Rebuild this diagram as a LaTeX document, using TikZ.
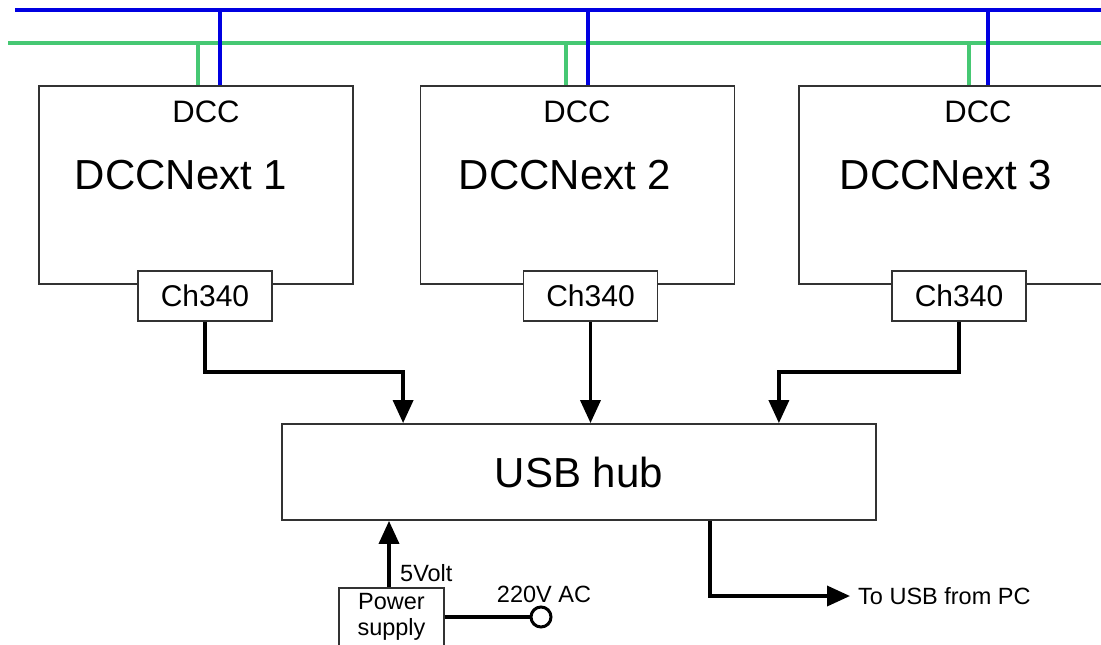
\documentclass[tikz,border=0pt]{standalone}
\usepackage{fontspec}
\setmainfont{Liberation Sans}
\usetikzlibrary{arrows.meta}
\definecolor{busblue}{RGB}{0,0,225}
\definecolor{busgreen}{RGB}{70,200,115}
\definecolor{boxgray}{RGB}{50,50,50}
\tikzset{
  dccbox/.style={draw=boxgray, line width=1.8pt, minimum width=314pt, minimum height=198pt, inner sep=0pt},
  chbox/.style={draw=boxgray, line width=1.8pt, fill=white, minimum width=134pt, minimum height=50pt, inner sep=0pt, font=\fontsize{30}{32}\selectfont},
  hubbox/.style={draw=boxgray, line width=1.8pt, minimum width=594pt, minimum height=96pt, inner sep=0pt, font=\fontsize{42}{44}\selectfont},
  dcclbl/.style={font=\fontsize{31}{33}\selectfont, inner sep=0pt},
  namelbl/.style={font=\fontsize{42}{44}\selectfont, inner sep=0pt},
  small/.style={font=\fontsize{23.5}{26}\selectfont, inner sep=0pt},
  arr/.style={line width=3.6pt, -{Triangle[length=23pt,width=20pt]}},
  blueline/.style={draw=busblue, line width=3.3pt},
  greenline/.style={draw=busgreen, line width=3.2pt},
}
\begin{document}
\begin{tikzpicture}[x=1pt,y=-1pt]
\useasboundingbox (0,0) rectangle (1101,645);
\clip (0,0) rectangle (1101,645);
% buses
\coordinate (bL) at (15,10);
\coordinate (bR) at (1101,10);
\coordinate (gL) at (8,43);
\coordinate (gR) at (1101,43);
\draw[blueline] (bL) -- (bR);
\draw[greenline] (gL) -- (gR);
% DCCNext boxes
\node[dccbox] (d1) at (196,185) {};
\node[dccbox] (d2) at (577.5,185) {};
\node[dccbox] (d3) at (956,185) {};
% bus drops
\draw[greenline] ([xshift=2pt]d1.north) -- ([xshift=2pt]d1.north |- gL);
\draw[blueline] ([xshift=24pt]d1.north) -- ([xshift=24pt]d1.north |- bL);
\draw[greenline] ([xshift=-11.5pt]d2.north) -- ([xshift=-11.5pt]d2.north |- gL);
\draw[blueline] ([xshift=10.5pt]d2.north) -- ([xshift=10.5pt]d2.north |- bL);
\draw[greenline] ([xshift=13pt]d3.north) -- ([xshift=13pt]d3.north |- gL);
\draw[blueline] ([xshift=32pt]d3.north) -- ([xshift=32pt]d3.north |- bL);
% labels
\node[dcclbl] (dc1) at (206,112) {DCC};
\node[dcclbl] (dc2) at (577,112) {DCC};
\node[dcclbl] (dc3) at (978,112) {DCC};
\node[namelbl] (n1) at (181,175) {DCCNext 1};
\node[namelbl] (n2) at (565,175) {DCCNext 2};
\node[namelbl] (n3) at (946,175) {DCCNext 3};
% Ch340
\node[chbox] (c1) at (205,296) {Ch340};
\node[chbox] (c2) at (590.5,296) {Ch340};
\node[chbox] (c3) at (959,296) {Ch340};
% hub
\node[hubbox] (hub) at (579,472) {USB hub};
% arrows to hub
\draw[arr] (c1.south) -- ++(0,50) -| ([xshift=122pt]hub.north west);
\draw[arr] (c2.south) -- (c2.south |- hub.north);
\draw[arr] (c3.south) -- ++(0,50) -| ([xshift=-98pt]hub.north east);
% power supply
\node[draw=boxgray, line width=1.8pt, minimum width=105pt, minimum height=90pt, anchor=north, inner sep=0pt] (ps) at (391.5,587) {};
\node[small, align=center] (pstxt) at (391.5,617) {Power\\supply};
\draw[arr] ([xshift=-2.5pt]ps.north) -- ([xshift=-2.5pt]ps.north |- hub.south);
\node[small, anchor=west] (volt) at (400,573) {5Volt};
\node[circle, draw=black, line width=3pt, minimum size=20pt, inner sep=0pt] (ac) at (541,617) {};
\draw[line width=3.5pt] (ac -| ps.east) -- (ac.west);
\node[small] (actxt) at (544,594) {220V AC};
% to PC
\coordinate (pc) at (850,596);
\draw[arr] ([xshift=-167pt]hub.south east) |- (pc);
\node[small, anchor=west] (pctxt) at (858,596) {To USB from PC};
\end{tikzpicture}
\end{document}
